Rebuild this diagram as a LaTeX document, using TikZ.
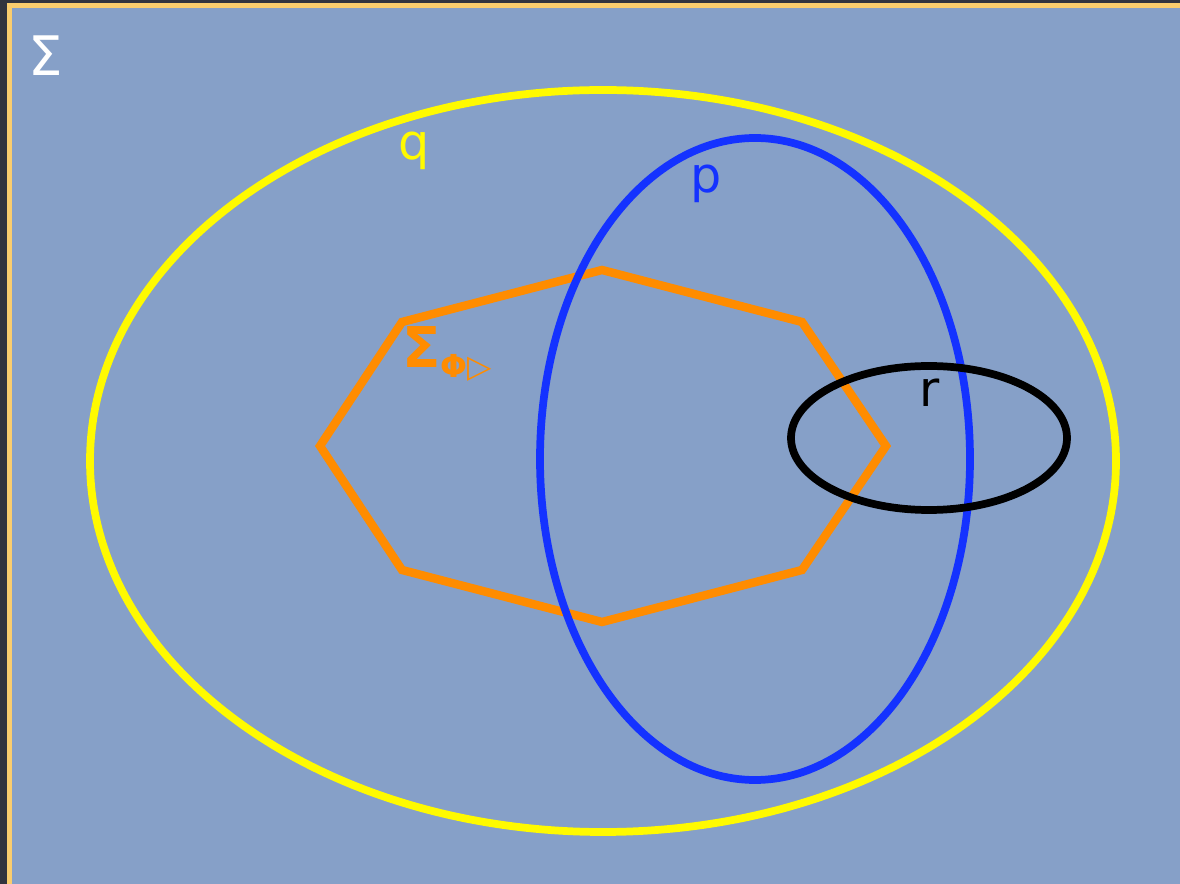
\documentclass[tikz,border=0pt]{standalone}
\usepackage{fontspec}
\setmainfont{DejaVu Sans}
\usepackage{tikz}
\usetikzlibrary{calc,positioning}
\definecolor{slateBg}{RGB}{134,160,200}
\definecolor{darkBg}{RGB}{50,52,62}
\definecolor{frameGold}{RGB}{250,205,110}
\definecolor{setYellow}{RGB}{255,250,0}
\definecolor{setBlue}{RGB}{20,50,255}
\definecolor{setOrange}{RGB}{255,140,0}

\begin{document}
\begin{tikzpicture}[x=0.02cm,y=-0.02cm,
  setline/.style={line width=4.4pt},
  lbl/.style={inner sep=0pt,font=\fontsize{28}{30}\selectfont}
]
  \useasboundingbox (0,0) rectangle (1180,884);
  \clip (0,0) rectangle (1180,884);
  \fill[darkBg] (0,0) rectangle (1180,884);
  \fill[frameGold] (7,3) rectangle (1190,894);
  \fill[slateBg] (12,8) rectangle (1190,894);
  \draw[setline,setYellow] (603,461) ellipse [x radius=513,y radius=-371];
  \draw[setline,setOrange,line width=4.8pt,line join=miter]
    (320,446) -- (402,322) -- (602,270) -- (802,322) -- (886,446)
    -- (802,570) -- (602,622) -- (402,570) -- cycle;
  \draw[setline,setBlue] (755,459) ellipse [x radius=215,y radius=-321];
  \draw[setline,black] (929,438) ellipse [x radius=138,y radius=-72];
  \node[lbl,white,font=\fontsize{31}{33}\selectfont] (sigma) at (46,56) {Σ};
  \node[lbl,setYellow] (q) at (414,151) {q};
  \node[lbl,setBlue] (p) at (706,184) {p};
  \node[lbl,black] (r) at (930,393) {r};
  \node[lbl,setOrange,anchor=west,font=\fontsize{32}{34}\selectfont\bfseries] (sigphi) at (402,354)
    {Σ\raisebox{-0.3ex}{\fontsize{18}{20}\selectfont Φ▷}};
\end{tikzpicture}
\end{document}
